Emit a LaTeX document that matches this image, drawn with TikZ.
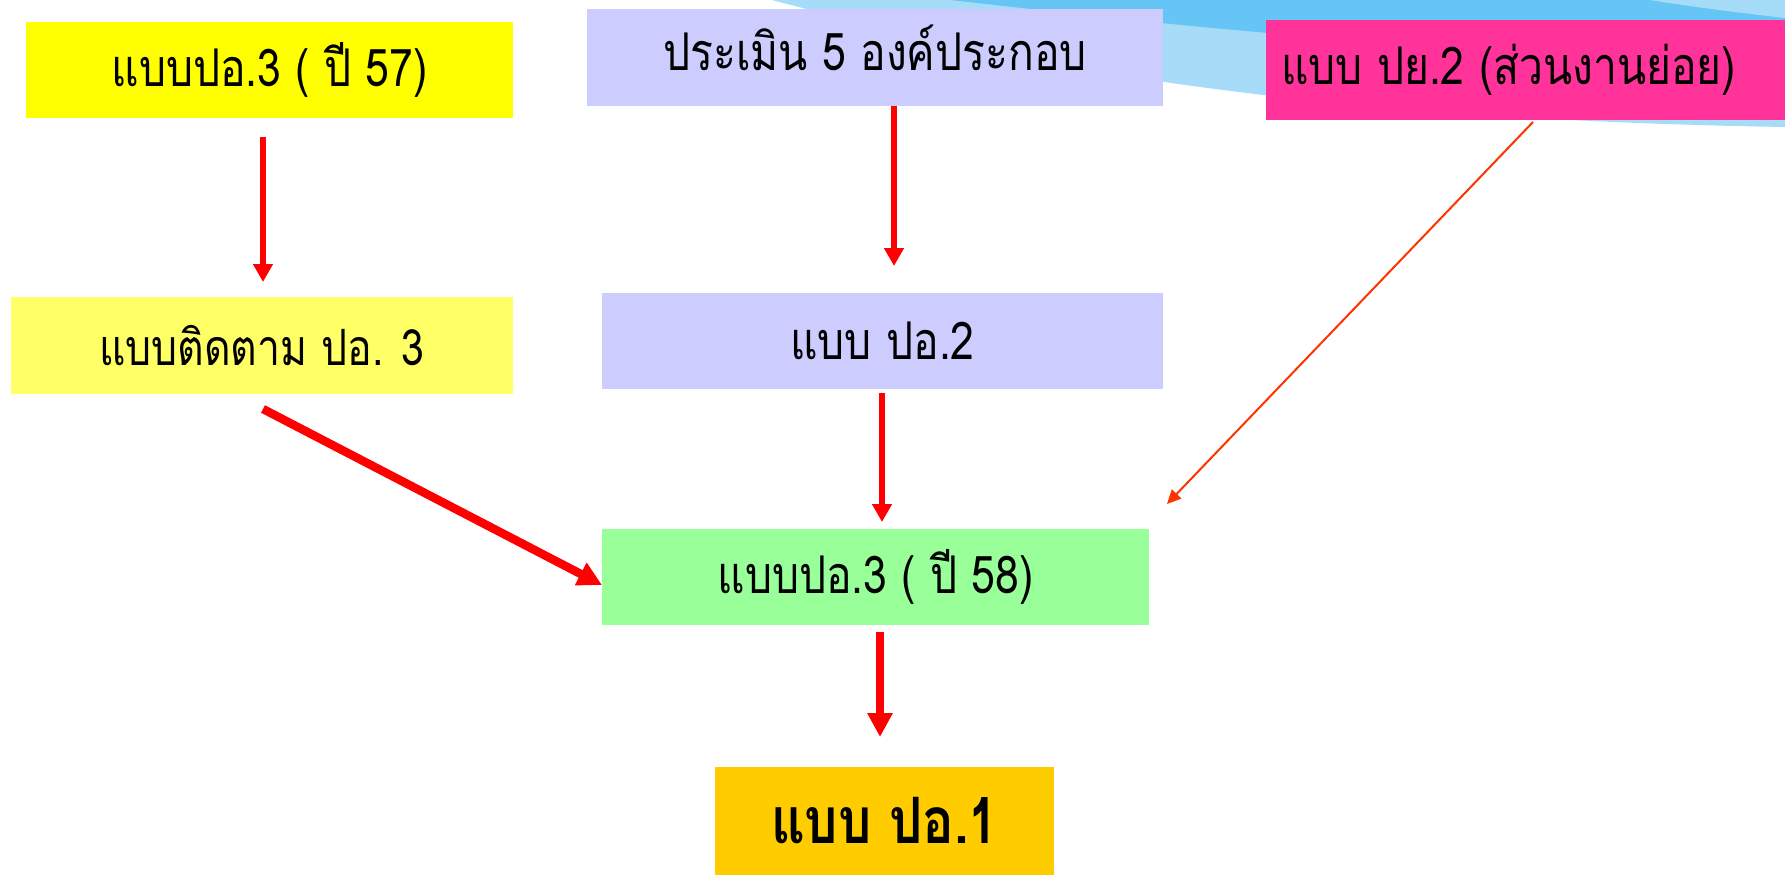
\documentclass[tikz,border=0pt]{standalone}
\usepackage{fontspec}
\newfontfamily\thaifont[Script=Thai, FakeStretch=0.82]{Loma}
\usetikzlibrary{arrows.meta}

\definecolor{boxyellow}{HTML}{FFFF00}
\definecolor{boxpaleyellow}{HTML}{FFFF66}
\definecolor{boxlavender}{HTML}{CCCCFF}
\definecolor{boxpink}{HTML}{FF3399}
\definecolor{boxgreen}{HTML}{99FF99}
\definecolor{boxgold}{HTML}{FFCC00}
\definecolor{arrowred}{HTML}{FF0000}
\definecolor{arroworange}{HTML}{FF3300}
\definecolor{skylight}{HTML}{A6DCF8}
\definecolor{skydark}{HTML}{66C5F5}

\tikzset{
  formbox/.style={rectangle, inner sep=0pt, draw=none, text=black,
    font=\thaifont\fontsize{52}{58}\selectfont},
  flow/.style={draw=arrowred, line width=6pt,
    -{Triangle[width=19pt,length=18pt]}},
  flowbold/.style={draw=arrowred, line width=8.5pt,
    -{Triangle[width=24pt,length=24pt]}},
  flowthin/.style={draw=arroworange, line width=2pt,
    -{Triangle[width=13pt,length=14pt]}, arroworange},
}

\begin{document}
\begin{tikzpicture}[x=1pt, y=-1pt]
\useasboundingbox (0,0) rectangle (1785,875);

% decorative swoosh along the top edge
\fill[skylight] (772,0) .. controls (980,55) and (1250,118) .. (1785,127) -- (1785,0) -- cycle;
\fill[skydark] (950,0) .. controls (1080,14) and (1300,44) .. (1785,66) -- (1785,0) -- cycle;
\fill[skylight] (1650,0) .. controls (1700,8) and (1750,14) .. (1785,18) -- (1785,0) -- cycle;

% form boxes
\node[formbox, fill=boxyellow, minimum width=487pt, minimum height=96pt]
  (p3old) at (269.5,70) {แบบปอ.3 ( ปี 57)};
\node[formbox, fill=boxlavender, minimum width=576pt, minimum height=97pt,
  text depth=20pt]
  (eval5) at (875,57.5) {ประเมิน 5 องค์ประกอบ};
\node[formbox, fill=boxpink, minimum width=519pt, minimum height=100pt]
  (py2) at (1525.5,70) {แบบ ปย.2 (ส่วนงานย่อย)\hspace*{34pt}};
\node[formbox, fill=boxpaleyellow, minimum width=502pt, minimum height=97pt,
  font=\thaifont\fontsize{50}{56}\selectfont]
  (track3) at (262,345.5) {แบบติดตาม ปอ. 3};
\node[formbox, fill=boxlavender, minimum width=561pt, minimum height=96pt]
  (p2) at (882.5,341) {แบบ ปอ.2};
\node[formbox, fill=boxgreen, minimum width=547pt, minimum height=96pt]
  (p3new) at (875.5,577) {แบบปอ.3 ( ปี 58)};
\node[formbox, fill=boxgold, minimum width=339pt, minimum height=108pt,
  font=\thaifont\bfseries\fontsize{64}{70}\selectfont]
  (p1) at (884.5,821) {แบบ ปอ.1};

% free ends of the connectors
\coordinate (a1s) at (263,137);
\coordinate (a1e) at (263,282);
\coordinate (a2s) at (894,106);
\coordinate (a2e) at (894,266);
\coordinate (a3s) at (1533,122);
\coordinate (a3e) at (1167,504);
\coordinate (a4s) at (882,393);
\coordinate (a4e) at (882,522);
\coordinate (a5s) at (263,409);
\coordinate (a5e) at (602,585);
\coordinate (a6s) at (880,632);
\coordinate (a6e) at (880,737);

\draw[flow] (a1s) -- (a1e);
\draw[flow] (a2s) -- (a2e);
\draw[flowthin] (a3s) -- (a3e);
\draw[flow] (a4s) -- (a4e);
\draw[flowbold] (a5s) -- (a5e);
\draw[flowbold] (a6s) -- (a6e);
\end{tikzpicture}
\end{document}
